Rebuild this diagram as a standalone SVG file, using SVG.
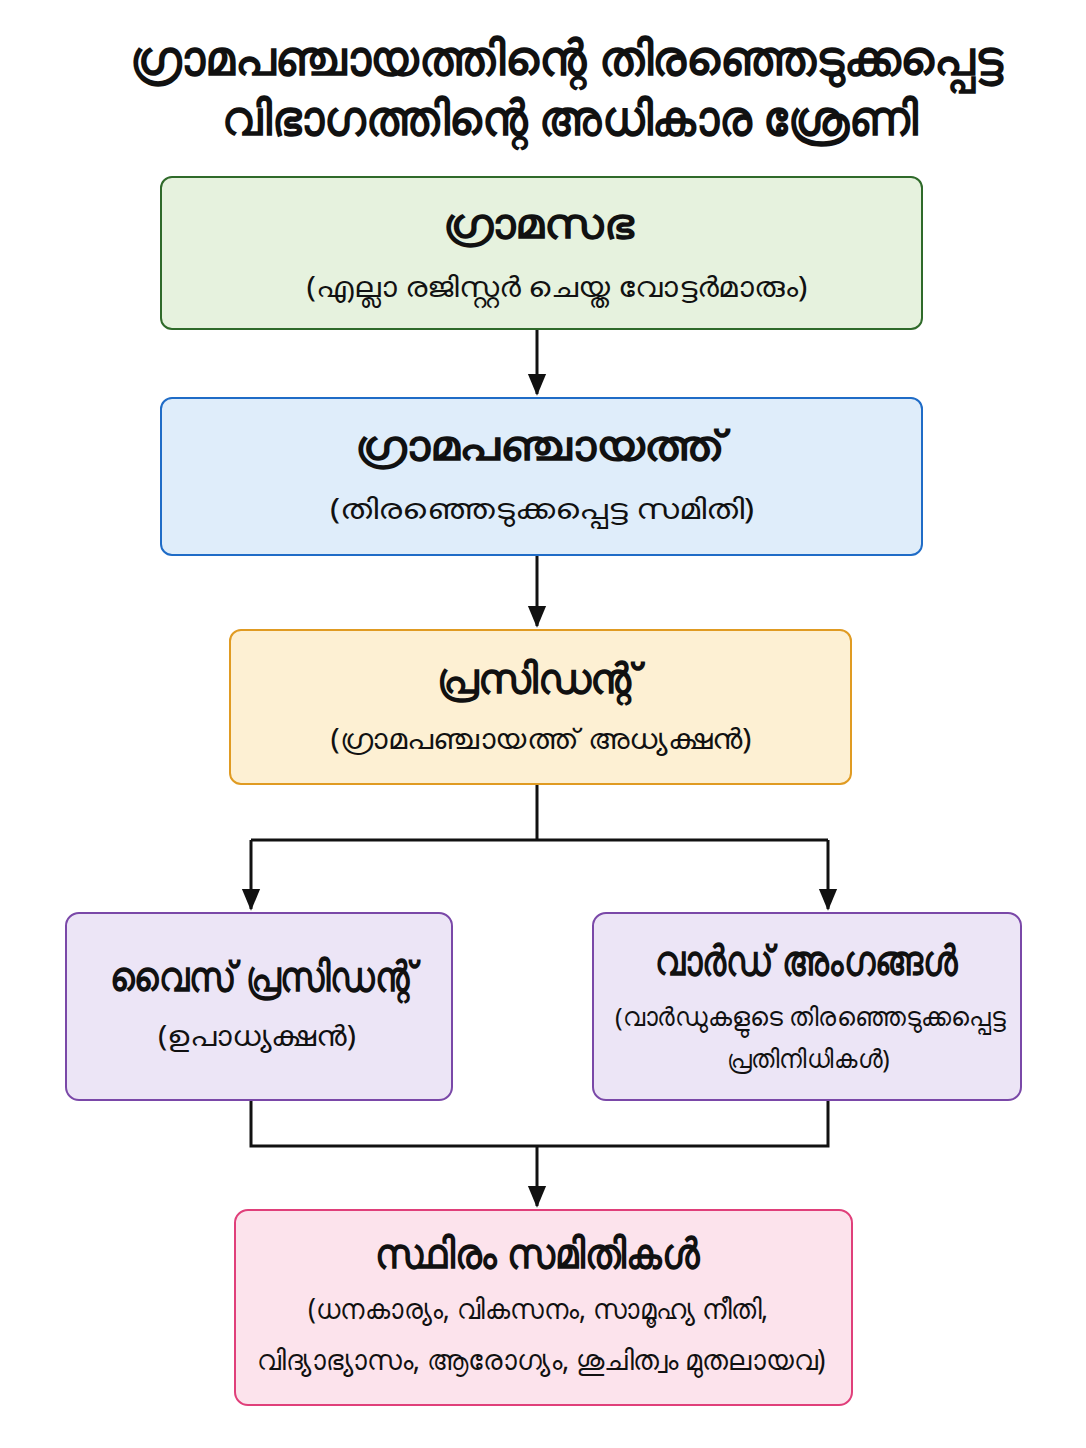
<svg xmlns="http://www.w3.org/2000/svg" width="1086" height="1448" viewBox="0 0 1086 1448">
<defs>
<style>
text{font-family:"Noto Sans","DejaVu Sans",sans-serif;fill:#111;text-anchor:middle;dominant-baseline:central}
.h{font-size:48px;font-weight:700}
.t{font-size:42px;font-weight:700}
.s{font-size:29px}
.s2{font-size:26px}
.box{stroke-width:2}
.c{stroke:#111;stroke-width:3;fill:none}
</style>
<marker id="a" viewBox="0 0 12 12" refX="11" refY="6" markerWidth="22" markerHeight="22" markerUnits="userSpaceOnUse" orient="auto">
<path d="M0,1 L12,6 L0,11 z" fill="#111"/>
</marker>
</defs>
<rect width="1086" height="1448" fill="#fff"/>
<g id="title">
<text class="h" x="566" y="56" textLength="873" lengthAdjust="spacingAndGlyphs">ഗ്രാമപഞ്ചായത്തിന്റെ തിരഞ്ഞെടുക്കപ്പെട്ട</text>
<text class="h" x="570" y="116" textLength="696" lengthAdjust="spacingAndGlyphs">വിഭാഗത്തിന്റെ അധികാര ശ്രേണി</text>
</g>
<g id="connectors">
<path class="c" d="M537,329 V394" marker-end="url(#a)"/>
<path class="c" d="M537,555 V626" marker-end="url(#a)"/>
<path class="c" d="M537,784 V840 M251,840 H828"/>
<path class="c" d="M251,840 V909" marker-end="url(#a)"/>
<path class="c" d="M828,840 V909" marker-end="url(#a)"/>
<path class="c" d="M251,1100 V1146 H828 V1100"/>
<path class="c" d="M537,1146 V1206" marker-end="url(#a)"/>
</g>
<g id="gramasabha">
<rect class="box" x="161" y="177" width="761" height="152" rx="11" fill="#e6f2de" stroke="#2f6a2a"/>
<text class="t" x="538" y="221" textLength="191" lengthAdjust="spacingAndGlyphs">ഗ്രാമസഭ</text>
<text class="s" x="557" y="285" textLength="501" lengthAdjust="spacingAndGlyphs">(എല്ലാ രജിസ്റ്റർ ചെയ്ത വോട്ടർമാരും)</text>
</g>
<g id="gramapanchayat">
<rect class="box" x="161" y="398" width="761" height="157" rx="11" fill="#dfedfa" stroke="#1f6cc7"/>
<text class="t" x="540" y="443" textLength="370" lengthAdjust="spacingAndGlyphs">ഗ്രാമപഞ്ചായത്ത്</text>
<text class="s" x="542" y="507" textLength="424" lengthAdjust="spacingAndGlyphs">(തിരഞ്ഞെടുക്കപ്പെട്ട സമിതി)</text>
</g>
<g id="president">
<rect class="box" x="230" y="630" width="621" height="154" rx="11" fill="#fdf0d3" stroke="#e09b22"/>
<text class="t" x="538" y="676" textLength="203" lengthAdjust="spacingAndGlyphs">പ്രസിഡന്റ്</text>
<text class="s" x="541" y="737" textLength="421" lengthAdjust="spacingAndGlyphs">(ഗ്രാമപഞ്ചായത്ത് അധ്യക്ഷൻ)</text>
</g>
<g id="vicepresident">
<rect class="box" x="66" y="913" width="386" height="187" rx="13" fill="#ece5f6" stroke="#7a48a8"/>
<text class="t" x="263" y="974" textLength="306" lengthAdjust="spacingAndGlyphs">വൈസ് പ്രസിഡന്റ്</text>
<text class="s" x="257" y="1034" textLength="198" lengthAdjust="spacingAndGlyphs">(ഉപാധ്യക്ഷൻ)</text>
</g>
<g id="wardmembers">
<rect class="box" x="593" y="913" width="428" height="187" rx="13" fill="#ece5f6" stroke="#7a48a8"/>
<text class="t" x="806" y="958" textLength="303" lengthAdjust="spacingAndGlyphs">വാർഡ് അംഗങ്ങൾ</text>
<text class="s2" x="810" y="1016" textLength="390" lengthAdjust="spacingAndGlyphs">(വാർഡുകളുടെ തിരഞ്ഞെടുക്കപ്പെട്ട</text>
<text class="s2" x="808" y="1058" textLength="163" lengthAdjust="spacingAndGlyphs">പ്രതിനിധികൾ)</text>
</g>
<g id="standingcommittees">
<rect class="box" x="235" y="1210" width="617" height="195" rx="13" fill="#fce3ec" stroke="#e03f7a"/>
<text class="t" x="537" y="1251" textLength="325" lengthAdjust="spacingAndGlyphs">സ്ഥിരം സമിതികൾ</text>
<text class="s" x="538" y="1307" textLength="460" lengthAdjust="spacingAndGlyphs">(ധനകാര്യം, വികസനം, സാമൂഹ്യ നീതി,</text>
<text class="s" x="541" y="1358" textLength="569" lengthAdjust="spacingAndGlyphs">വിദ്യാഭ്യാസം, ആരോഗ്യം, ശുചിത്വം മുതലായവ)</text>
</g>
</svg>
